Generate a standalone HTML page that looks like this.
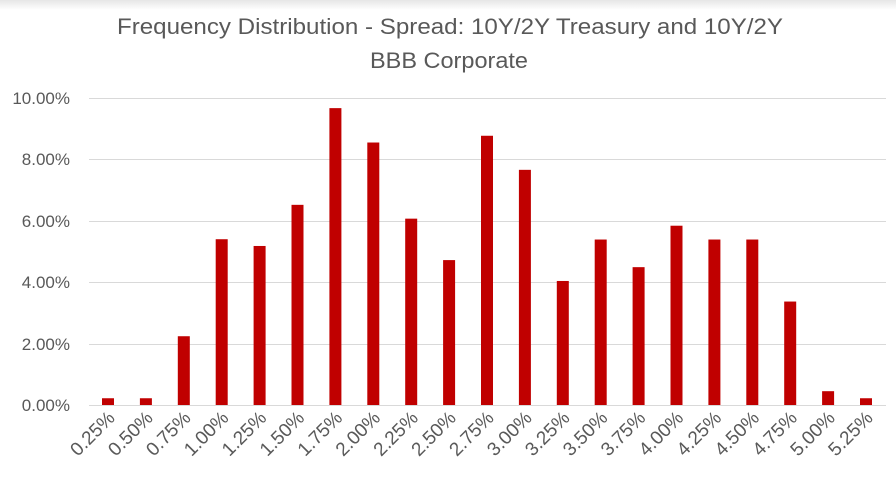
<!DOCTYPE html>
<html><head><style>
html,body{margin:0;padding:0;background:#fff;}
svg{display:block;font-family:"Liberation Sans",sans-serif;}
</style></head><body>
<svg width="896" height="480" viewBox="0 0 896 480">
<defs><linearGradient id="g" x1="0" y1="0" x2="0" y2="1"><stop offset="0" stop-color="#e6e6e6"/><stop offset="1" stop-color="#fff"/></linearGradient></defs>
<rect width="896" height="480" fill="#fff"/>
<rect width="896" height="10" fill="url(#g)"/>
<text x="450" y="34" font-size="22" fill="#595959" text-anchor="middle" textLength="666" lengthAdjust="spacingAndGlyphs">Frequency Distribution - Spread: 10Y/2Y Treasury and 10Y/2Y</text>
<text x="449" y="68" font-size="22" fill="#595959" text-anchor="middle" textLength="158" lengthAdjust="spacingAndGlyphs">BBB Corporate</text>
<g stroke="#d9d9d9" stroke-width="1">
<line x1="89" x2="886" y1="98.5" y2="98.5"/>
<line x1="89" x2="886" y1="159.5" y2="159.5"/>
<line x1="89" x2="886" y1="221.5" y2="221.5"/>
<line x1="89" x2="886" y1="282.5" y2="282.5"/>
<line x1="89" x2="886" y1="344.5" y2="344.5"/>
<line x1="89" x2="886" y1="405.5" y2="405.5"/>
</g>
<g font-size="17" fill="#595959" text-anchor="end">
<text x="70" y="104">10.00%</text>
<text x="70" y="165">8.00%</text>
<text x="70" y="227">6.00%</text>
<text x="70" y="288">4.00%</text>
<text x="70" y="350">2.00%</text>
<text x="70" y="411">0.00%</text>
</g>
<g id="bars" fill="#c00000"></g>
<g id="labs" font-size="19" fill="#595959" text-anchor="end"></g>
</svg>
<script>
var v=[0.22,0.22,2.24,5.4,5.18,6.52,9.67,8.55,6.07,4.72,8.77,7.66,4.04,5.39,4.49,5.84,5.39,5.39,3.37,0.45,0.22];
var l=["0.25%","0.50%","0.75%","1.00%","1.25%","1.50%","1.75%","2.00%","2.25%","2.50%","2.75%","3.00%","3.25%","3.50%","3.75%","4.00%","4.25%","4.50%","4.75%","5.00%","5.25%"];
var ns="http://www.w3.org/2000/svg",b=document.getElementById("bars"),t=document.getElementById("labs");
var step=(866-108)/20;
for(var i=0;i<21;i++){var cx=108+i*step,h=v[i]*30.7;
var r=document.createElementNS(ns,"rect");r.setAttribute("x",cx-6);r.setAttribute("y",405-h);r.setAttribute("width",12);r.setAttribute("height",h);b.appendChild(r);
var tx=document.createElementNS(ns,"text");tx.setAttribute("transform","translate("+(cx+8)+",419) rotate(-45)");tx.textContent=l[i];t.appendChild(tx);}
</script>
</body></html>
